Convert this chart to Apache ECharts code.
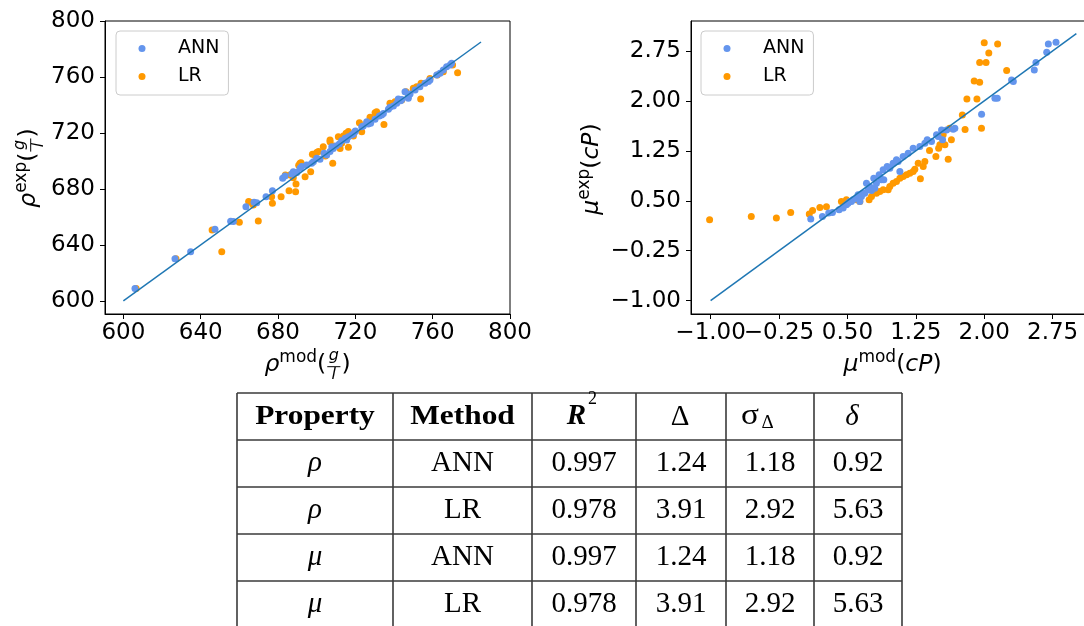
<!DOCTYPE html>
<html><head><meta charset="utf-8">
<script src="https://cdn.jsdelivr.net/npm/echarts@6.0.0/dist/echarts.min.js"></script>
<style>html,body{margin:0;padding:0;background:#fff}#chart{width:1084px;height:626px}</style>
</head><body><div id="chart"></div>
<script>
// ---------------- data ----------------
const densityTicks = [600, 640, 680, 720, 760, 800];
const viscosityTicks = [-1, -0.25, 0.5, 1.25, 2, 2.75];
const densityLine = [600, 785];
const viscosityLine = [-1, 3.01];

const densityANN = [[606.0,609.0],[626.7,630.2],[634.8,635.2],[647.4,651.2],[655.5,656.9],[656.9,656.7],[663.4,667.4],[667.6,670.5],[669.0,670.2],[673.8,674.5],[677.1,678.8],[682.4,687.6],[683.6,689.3],[687.1,690.7],[687.9,692.4],[689.7,691.7],[691.4,694.8],[692.2,696.0],[694.8,697.1],[697.4,698.3],[698.3,699.5],[700.0,701.9],[701.7,701.2],[703.8,705.5],[705.2,704.3],[706.9,706.7],[707.8,710.2],[708.6,709.0],[710.0,710.7],[711.7,712.1],[712.9,714.5],[714.7,716.2],[715.5,715.0],[716.4,717.4],[718.1,718.6],[719.0,719.3],[719.8,720.9],[720.0,721.4],[723.3,724.5],[724.1,725.0],[725.9,728.1],[726.7,726.4],[727.9,726.9],[730.2,729.8],[732.4,732.1],[733.6,732.9],[734.5,734.0],[737.1,736.9],[737.9,738.3],[739.7,739.3],[741.4,741.2],[742.2,744.3],[743.4,743.1],[744.0,744.0],[745.7,749.5],[747.4,744.8],[747.4,746.4],[748.3,747.9],[750.9,750.7],[753.4,753.1],[756.0,755.5],[757.8,756.7],[758.6,757.9],[762.1,761.4],[763.8,762.6],[765.5,765.0],[767.2,767.4],[769.0,768.6],[769.8,769.8]];
const densityLR = [[606.6,609.0],[627.2,630.2],[645.9,650.7],[650.9,635.2],[660.0,656.2],[664.8,671.0],[665.5,670.5],[667.2,668.6],[669.8,657.1],[676.7,674.5],[677.1,669.8],[681.6,674.5],[683.8,690.0],[685.7,678.8],[686.2,690.0],[687.9,688.1],[689.1,678.1],[689.3,683.6],[690.7,696.9],[691.4,698.3],[691.9,698.8],[694.0,688.8],[696.9,692.4],[697.8,704.8],[699.0,704.3],[700.0,706.0],[700.9,706.7],[703.4,710.2],[704.5,703.6],[706.9,713.8],[706.9,715.0],[708.3,698.3],[708.6,710.7],[711.2,717.4],[712.1,709.0],[712.9,712.6],[713.8,717.9],[715.2,719.8],[715.5,715.8],[716.4,709.8],[716.4,721.0],[719.0,717.9],[722.1,727.4],[723.3,720.9],[725.9,727.4],[727.6,731.2],[730.2,734.5],[731.0,735.2],[734.8,726.0],[737.9,741.2],[740.5,742.4],[744.0,743.6],[746.2,749.5],[750.0,751.2],[750.0,751.9],[751.7,753.1],[753.8,744.3],[754.0,755.5],[758.6,759.0],[762.4,761.4],[765.5,763.8],[770.3,768.6],[772.9,763.1]];

const viscosityANN = [[0.098,0.225],[0.226,0.265],[0.295,0.315],[0.336,0.325],[0.409,0.365],[0.453,0.39],[0.489,0.44],[0.507,0.465],[0.526,0.49],[0.544,0.49],[0.562,0.515],[0.599,0.54],[0.617,0.59],[0.636,0.49],[0.654,0.565],[0.672,0.615],[0.69,0.615],[0.709,0.765],[0.727,0.665],[0.745,0.715],[0.764,0.655],[0.789,0.84],[0.8,0.69],[0.818,0.765],[0.848,0.89],[0.855,0.865],[0.873,0.815],[0.892,0.965],[0.899,0.815],[0.936,1.015],[0.965,0.99],[1.001,1.065],[1.038,1.115],[1.056,1.09],[1.075,0.94],[1.111,1.165],[1.166,1.215],[1.221,1.29],[1.294,1.315],[1.349,1.365],[1.375,1.415],[1.422,1.39],[1.477,1.49],[1.495,1.465],[1.532,1.565],[1.543,1.415],[1.587,1.565],[1.66,1.575],[1.678,1.59],[1.971,1.8],[2.117,2.04],[2.143,2.04],[2.3,2.315],[2.319,2.29],[2.549,2.465],[2.567,2.575],[2.685,2.73],[2.703,2.855],[2.787,2.88]];
const viscosityLR = [[-1.011,0.215],[-0.554,0.265],[-0.279,0.24],[-0.122,0.325],[0.082,0.30],[0.118,0.355],[0.198,0.40],[0.27,0.41],[0.434,0.49],[0.489,0.515],[0.599,0.515],[0.636,0.49],[0.738,0.515],[0.764,0.565],[0.818,0.615],[0.855,0.64],[0.892,0.665],[0.947,0.665],[0.965,0.715],[1.001,0.765],[1.038,0.79],[1.075,0.84],[1.111,0.865],[1.148,0.89],[1.184,0.915],[1.221,0.94],[1.239,0.975],[1.276,1.065],[1.30,0.83],[1.331,1.015],[1.349,1.09],[1.40,1.255],[1.47,1.165],[1.5,1.29],[1.514,1.34],[1.55,1.49],[1.569,1.34],[1.605,1.125],[1.62,1.59],[1.64,1.415],[1.76,1.79],[1.79,1.57],[1.81,2.03],[1.89,2.30],[1.92,2.03],[1.95,2.28],[1.95,2.575],[1.97,1.59],[2.0,2.875],[2.02,2.575],[2.05,2.72],[2.147,2.855],[2.246,2.455]];

const seriesNames = ['ANN', 'LR'];
const tableHeader = ['Property', 'Method', 'R', 'Δ', 'σ', 'δ'];
const tableProperty = ['ρ', 'ρ', 'μ', 'μ'];
const tableMethod = ['ANN', 'LR', 'ANN', 'LR'];
const tableR2 = ['0.997', '0.978', '0.997', '0.978'];
const tableDelta = ['1.24', '3.91', '1.24', '3.91'];
const tableSigma = ['1.18', '2.92', '1.18', '2.92'];
const tableRel = ['0.92', '5.63', '0.92', '5.63'];

// ---------------- style / layout ----------------
const BLUE = '#6495ED', ORANGE = '#FF9900', LINE = '#1f77b4';
const SANS = 'DejaVu Sans', SERIF = 'Liberation Serif';
const MID = 0.346;
const c2d = document.createElement('canvas').getContext('2d');
function tw(t, fs, it) { c2d.font = (it ? 'italic ' : '') + fs + 'px "' + SANS + '"'; return c2d.measureText(t).width; }

function mathTitle(pieces, cx, cy, rotated) {
  let x = 0; const ch = [];
  pieces.forEach(p => {
    if (p.frac) {
      const w = Math.max(tw(p.frac[0], p.fs, true), tw(p.frac[1], p.fs, true)) + 5;
      const c = x + w / 2;
      ch.push({type:'text', x:c, y:p.num - MID*p.fs, style:{text:p.frac[0], fontSize:p.fs, fontFamily:SANS, fontStyle:'italic', fill:'#000', align:'center', verticalAlign:'middle'}});
      ch.push({type:'text', x:c, y:p.den - MID*p.fs, style:{text:p.frac[1], fontSize:p.fs, fontFamily:SANS, fontStyle:'italic', fill:'#000', align:'center', verticalAlign:'middle'}});
      ch.push({type:'line', shape:{x1:x + 1, y1:p.bar, x2:x + w - 1, y2:p.bar}, style:{stroke:'#000', lineWidth:1}});
      x += w;
    } else {
      const w = tw(p.t, p.fs, p.it);
      ch.push({type:'text', x:x, y:(p.dy || 0) - MID*p.fs, style:{text:p.t, fontSize:p.fs, fontFamily:SANS, fontStyle:p.it ? 'italic' : 'normal', fill:'#000', align:'left', verticalAlign:'middle'}});
      x += w;
    }
  });
  const half = x / 2;
  ch.forEach(c => { if (c.type === 'line') { c.shape.x1 -= half; c.shape.x2 -= half; } else c.x -= half; });
  return {type:'group', x:cx, y:cy, rotation: rotated ? Math.PI / 2 : 0, children: ch, silent:true};
}
function densTitle(sup) {
  return [{t:'ρ', fs:23.5, it:true}, {t:sup, fs:17, dy:-10}, {t:'(', fs:23.5},
          {frac:['g','l'], fs:16, num:-11.5, den:7, bar:-6.3}, {t:')', fs:23.5}];
}
function viscTitle(sup) {
  return [{t:'μ', fs:23.5, it:true}, {t:sup, fs:17, dy:-10}, {t:'(', fs:23.5}, {t:'cP', fs:23.5, it:true}, {t:')', fs:23.5}];
}

// table layout
const tCols = [237, 393, 532, 636, 726, 814, 902];
const tRows = [393, 440, 487, 534, 581, 628];
function cell(text, cx, cy, o) {
  o = o || {};
  return {type:'text', x:cx, y:cy, scaleX:o.sx || 1, silent:true,
    style:{text, fontSize:o.fs || 29, fontFamily:SERIF, fontWeight:o.bold ? 'bold' : 'normal',
      fontStyle:o.it ? 'italic' : 'normal', fill:'#000', align:'center', verticalAlign:'middle'}};
}
function tableElements() {
  const els = [];
  tRows.forEach(r => els.push({type:'line', silent:true, shape:{x1:tCols[0], y1:r, x2:tCols[tCols.length-1], y2:r}, style:{stroke:'#3a3a3a', lineWidth:1.6}}));
  tCols.forEach(c => els.push({type:'line', silent:true, shape:{x1:c, y1:tRows[0], x2:c, y2:tRows[tRows.length-1]}, style:{stroke:'#3a3a3a', lineWidth:1.6}}));
  const cc = i => (tCols[i] + tCols[i+1]) / 2;
  const rc = i => (tRows[i] + tRows[i+1]) / 2;
  const hy = rc(0);
  els.push(cell(tableHeader[0], cc(0), hy, {bold:true, fs:28, sx:1.12}));
  els.push(cell(tableHeader[1], cc(1), hy, {bold:true, fs:28, sx:1.12}));
  els.push(cell(tableHeader[2], cc(2) - 7.5, hy, {bold:true, it:true, fs:29}));
  els.push(cell('2', cc(2) + 8.5, hy - 17, {fs:18}));
  els.push(cell(tableHeader[3], cc(3) - 1, hy + 1, {fs:29}));
  els.push(cell(tableHeader[4], cc(4) - 20, hy, {fs:29, sx:1.15}));
  els.push(cell('Δ', cc(4) - 2.5, hy + 6.5, {fs:19}));
  els.push(cell(tableHeader[5], cc(5) - 6, hy + 1, {fs:29, it:true}));
  const cols = [tableProperty, tableMethod, tableR2, tableDelta, tableSigma, tableRel];
  for (let r = 0; r < 4; r++) {
    cols.forEach((arr, ci) => els.push(cell(arr[r], cc(ci), rc(r + 1), {it: ci === 0})));
  }
  return els;
}

function axis(gridIndex, min, max, ticks, labels, fmt, isX, hidden) {
  return {
    type:'value', gridIndex, min, max, scale:true, position: isX ? 'bottom' : 'left',
    axisLine:{show:!hidden, onZero:false, lineStyle:{color:'#000', width:1}},
    axisTick:{show:!hidden, inside:false, customValues:ticks, length:5, lineStyle:{color:'#000', width:1}},
    axisLabel:{show:true, customValues:labels, formatter:fmt, color:'#000', fontSize:23, fontFamily:SANS,
      margin:isX ? 8 : 10, showMinLabel:true, showMaxLabel:true, hideOverlap:false},
    splitLine:{show:false}
  };
}
const densFmt = v => String(Math.round(v));
const viscFmt = v => v.toFixed(2).replace('-', '\u2212');

function legendAt(left) {
  return {left, top:31, orient:'vertical', data:seriesNames, icon:'circle', itemWidth:20, itemHeight:7, itemGap:9,
    padding:[8, 9, 9, 22.5], borderColor:'#cccccc', borderWidth:1, borderRadius:4, backgroundColor:'rgba(255,255,255,0.8)',
    textStyle:{fontSize:19, fontFamily:SANS, color:'#000', padding:[0, 0, 4, 21]}, selectedMode:false};
}
function scatter(name, data, xi, color, z) {
  return {type:'scatter', name, data, xAxisIndex:xi, yAxisIndex:xi, symbolSize:7, itemStyle:{color, opacity:1}, z, silent:true};
}
function diag(ends, xi) {
  return {type:'line', data:[[ends[0], ends[0]], [ends[1], ends[1]]], xAxisIndex:xi, yAxisIndex:xi, symbol:'none',
    lineStyle:{color:LINE, width:1.5}, z:5, silent:true};
}

const chart = echarts.init(document.getElementById('chart'));
chart.setOption({
  animation:false,
  backgroundColor:'#fff',
  grid:[
    {left:105, top:21, width:405, height:293, show:true, borderColor:'#000', borderWidth:1, containLabel:false, outerBoundsMode:'none'},
    {left:691, top:21, width:404.5, height:293, show:true, borderColor:'#000', borderWidth:1, containLabel:false, outerBoundsMode:'none'}
  ],
  xAxis:[
    axis(0, 590.5, 800, densityTicks, densityTicks, densFmt, true),
    axis(1, -1.215, 3.22, viscosityTicks, viscosityTicks.slice(1), viscFmt, true),
    // first label of the viscosity axis, kept on its own so that it may overlap the next one as in the original
    axis(1, -1.215, 3.22, viscosityTicks.slice(0, 1), viscosityTicks.slice(0, 1), viscFmt, true, true)
  ],
  yAxis:[axis(0, 590.7, 800, densityTicks, densityTicks, densFmt, false), axis(1, -1.2, 3.2, viscosityTicks, viscosityTicks, viscFmt, false)],
  legend:[legendAt(116), legendAt(701)],
  series:[
    scatter('LR', densityLR, 0, ORANGE, 2), scatter('ANN', densityANN, 0, BLUE, 3), diag(densityLine, 0),
    scatter('LR', viscosityLR, 1, ORANGE, 2), scatter('ANN', viscosityANN, 1, BLUE, 3), diag(viscosityLine, 1)
  ],
  graphic:{elements:[
    mathTitle(densTitle('mod'), 307.5, 373, false),
    mathTitle(densTitle('exp'), 37, 168, true),
    mathTitle(viscTitle('mod'), 892.5, 373, false),
    mathTitle(viscTitle('exp'), 600, 169, true)
  ].concat(tableElements())}
});
</script></body></html>
